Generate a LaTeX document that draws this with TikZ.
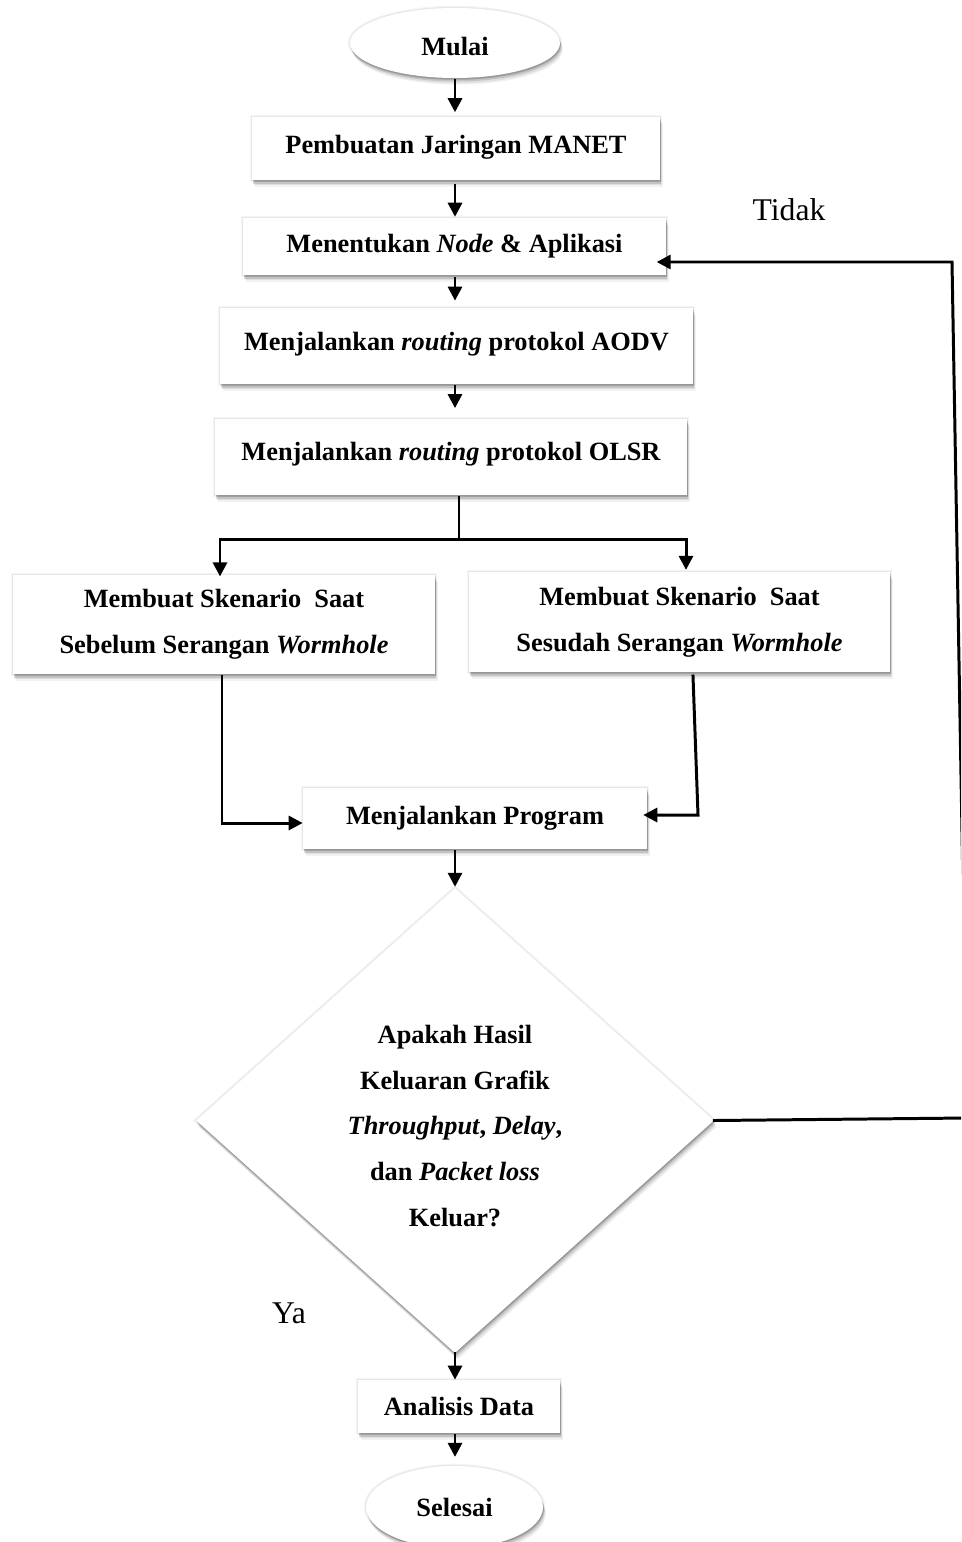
\documentclass[tikz,border=0pt]{standalone}
\usepackage{fontspec}
\setmainfont{Liberation Serif}
\usetikzlibrary{shapes.geometric,arrows.meta,shadows}

\tikzset{
  softshadow/.style={
    preaction={draw=black, line width=2.6pt, opacity=0.04},
    preaction={draw=black, line width=1.3pt, opacity=0.06},
    general shadow={shadow xshift=0.4pt, shadow yshift=-1.0pt, fill=black, opacity=0.15},
    general shadow={shadow xshift=0.8pt, shadow yshift=-2.0pt, fill=black, opacity=0.12},
    general shadow={shadow xshift=1.2pt, shadow yshift=-3.0pt, fill=black, opacity=0.08},
    general shadow={shadow xshift=1.6pt, shadow yshift=-3.8pt, fill=black, opacity=0.05}},
  stepbox/.style={rectangle, fill=white, softshadow, inner sep=0pt, align=center,
    font=\bfseries\fontsize{15}{26}\selectfont},
  terminal/.style={ellipse, fill=white, softshadow, inner sep=0pt,
    font=\bfseries\fontsize{15}{18}\selectfont},
  decision/.style={diamond, fill=white, softshadow, inner sep=0pt},
  plainlabel/.style={font=\fontsize{18}{21}\selectfont},
  link/.style={line width=1.7pt, line cap=rect},
  arr/.style={link, -{Triangle[length=8pt,width=8pt]}}
}

\begin{document}
\begin{tikzpicture}[x=0.02cm, y=-0.02cm]
\useasboundingbox (0,0) rectangle (961,1542);
\clip (0,0) rectangle (961,1542);

% start / end
\node[terminal, minimum width=4.2cm, minimum height=1.4cm, text height=14pt, text depth=0pt]
  (mulai) at (455,43) {Mulai};
\node[terminal, minimum width=3.54cm, minimum height=1.64cm] (selesai) at (454.5,1507) {Selesai};

% process steps
\node[stepbox, minimum width=8.16cm, minimum height=1.26cm] (b1) at (456,148.5)
  {\raisebox{4.2pt}{Pembuatan Jaringan MANET}};
\node[stepbox, minimum width=8.46cm, minimum height=1.14cm] (b2) at (454.5,246.5)
  {\raisebox{-0.8pt}{Menentukan \textit{Node} \& Aplikasi}};
\node[stepbox, minimum width=9.46cm, minimum height=1.52cm] (b3) at (456.5,346)
  {\raisebox{5.2pt}{Menjalankan \textit{routing} protokol AODV}};
\node[stepbox, minimum width=9.44cm, minimum height=1.52cm] (b4) at (451,457)
  {\raisebox{6.2pt}{Menjalankan \textit{routing} protokol OLSR}};
\node[stepbox, minimum width=8.44cm, minimum height=1.98cm] (b5) at (224,624.5)
  {Membuat Skenario\ \ Saat\\ Sebelum Serangan \textit{Wormhole}};
\node[stepbox, minimum width=8.42cm, minimum height=2.0cm] (b6) at (679.5,622)
  {Membuat Skenario\ \ Saat\\ Sesudah Serangan \textit{Wormhole}};
\node[stepbox, minimum width=6.88cm, minimum height=1.22cm] (b7) at (475,818.5)
  {\raisebox{1.5pt}{Menjalankan Program}};
\node[stepbox, minimum width=4.04cm, minimum height=1.06cm] (b8) at (459,1406.5)
  {Analisis Data};

% decision
\node[decision, minimum width=10.36cm, minimum height=9.3cm] (dia) at (455,1120.5) {};
\node[align=center, font=\bfseries\fontsize{15}{26}\selectfont] (dtext) at (455,1126)
  {Apakah Hasil\\ Keluaran Grafik\\ \textit{Throughput}, \textit{Delay},\\
   dan \textit{Packet loss}\\ Keluar?};

% branch labels
\node[plainlabel] (tidak) at (789,210) {Tidak};
\node[plainlabel] (ya) at (289,1313) {Ya};

% bend points
\coordinate (split) at (459,539);
\coordinate (lfork) at (220,539);
\coordinate (rfork) at (686,539);
\coordinate (lfoot) at (222,823);
\coordinate (rtop) at (693,676);
\coordinate (rfoot) at (698,815);
\coordinate (loopbot) at (967,1118);
\coordinate (looptop) at (952,262);

% main flow
\draw[arr] ([yshift=-1pt]mulai.south) -- ([yshift=2.5pt]b1.north -| mulai);
\draw[arr] ([yshift=-3pt]b1.south -| mulai) -- ([yshift=0.5pt]b2.north -| mulai);
\draw[arr] ([yshift=-2pt]b2.south -| mulai) -- ([yshift=4pt]b3.north -| mulai);
\draw[arr] ([yshift=-1pt]b3.south -| mulai) -- ([yshift=6pt]b4.north -| mulai);

% fork to the two scenarios
\draw[link] ([yshift=-1pt]b4.south -| split) -- (split);
\draw[arr] (split) -- (lfork) -- ([yshift=-1pt]b5.north -| lfork);
\draw[arr] (split) -- (rfork) -- ([yshift=1pt]b6.north -| rfork);

% join into the program run
\draw[arr] ([yshift=-1pt]b5.south -| lfoot) -- (lfoot) -- (b7.west |- lfoot);
\draw[arr] (rtop) -- (rfoot) -- ([xshift=-2.3pt]b7.east |- rfoot);

% decision and outcome
\draw[arr] ([yshift=-1pt]b7.south -| mulai) -- ([yshift=0.5pt]dia.north);
\draw[arr] (dia.south) -- (b8.north -| dia.south);
\draw[arr] ([yshift=-1pt]b8.south -| dia.south) -- ([yshift=5pt]selesai.north -| dia.south);

% loop back when no output
\draw[arr] (dia.east) -- (loopbot) -- (looptop) -- ([xshift=-5.5pt]b2.east |- looptop);
\end{tikzpicture}
\end{document}
